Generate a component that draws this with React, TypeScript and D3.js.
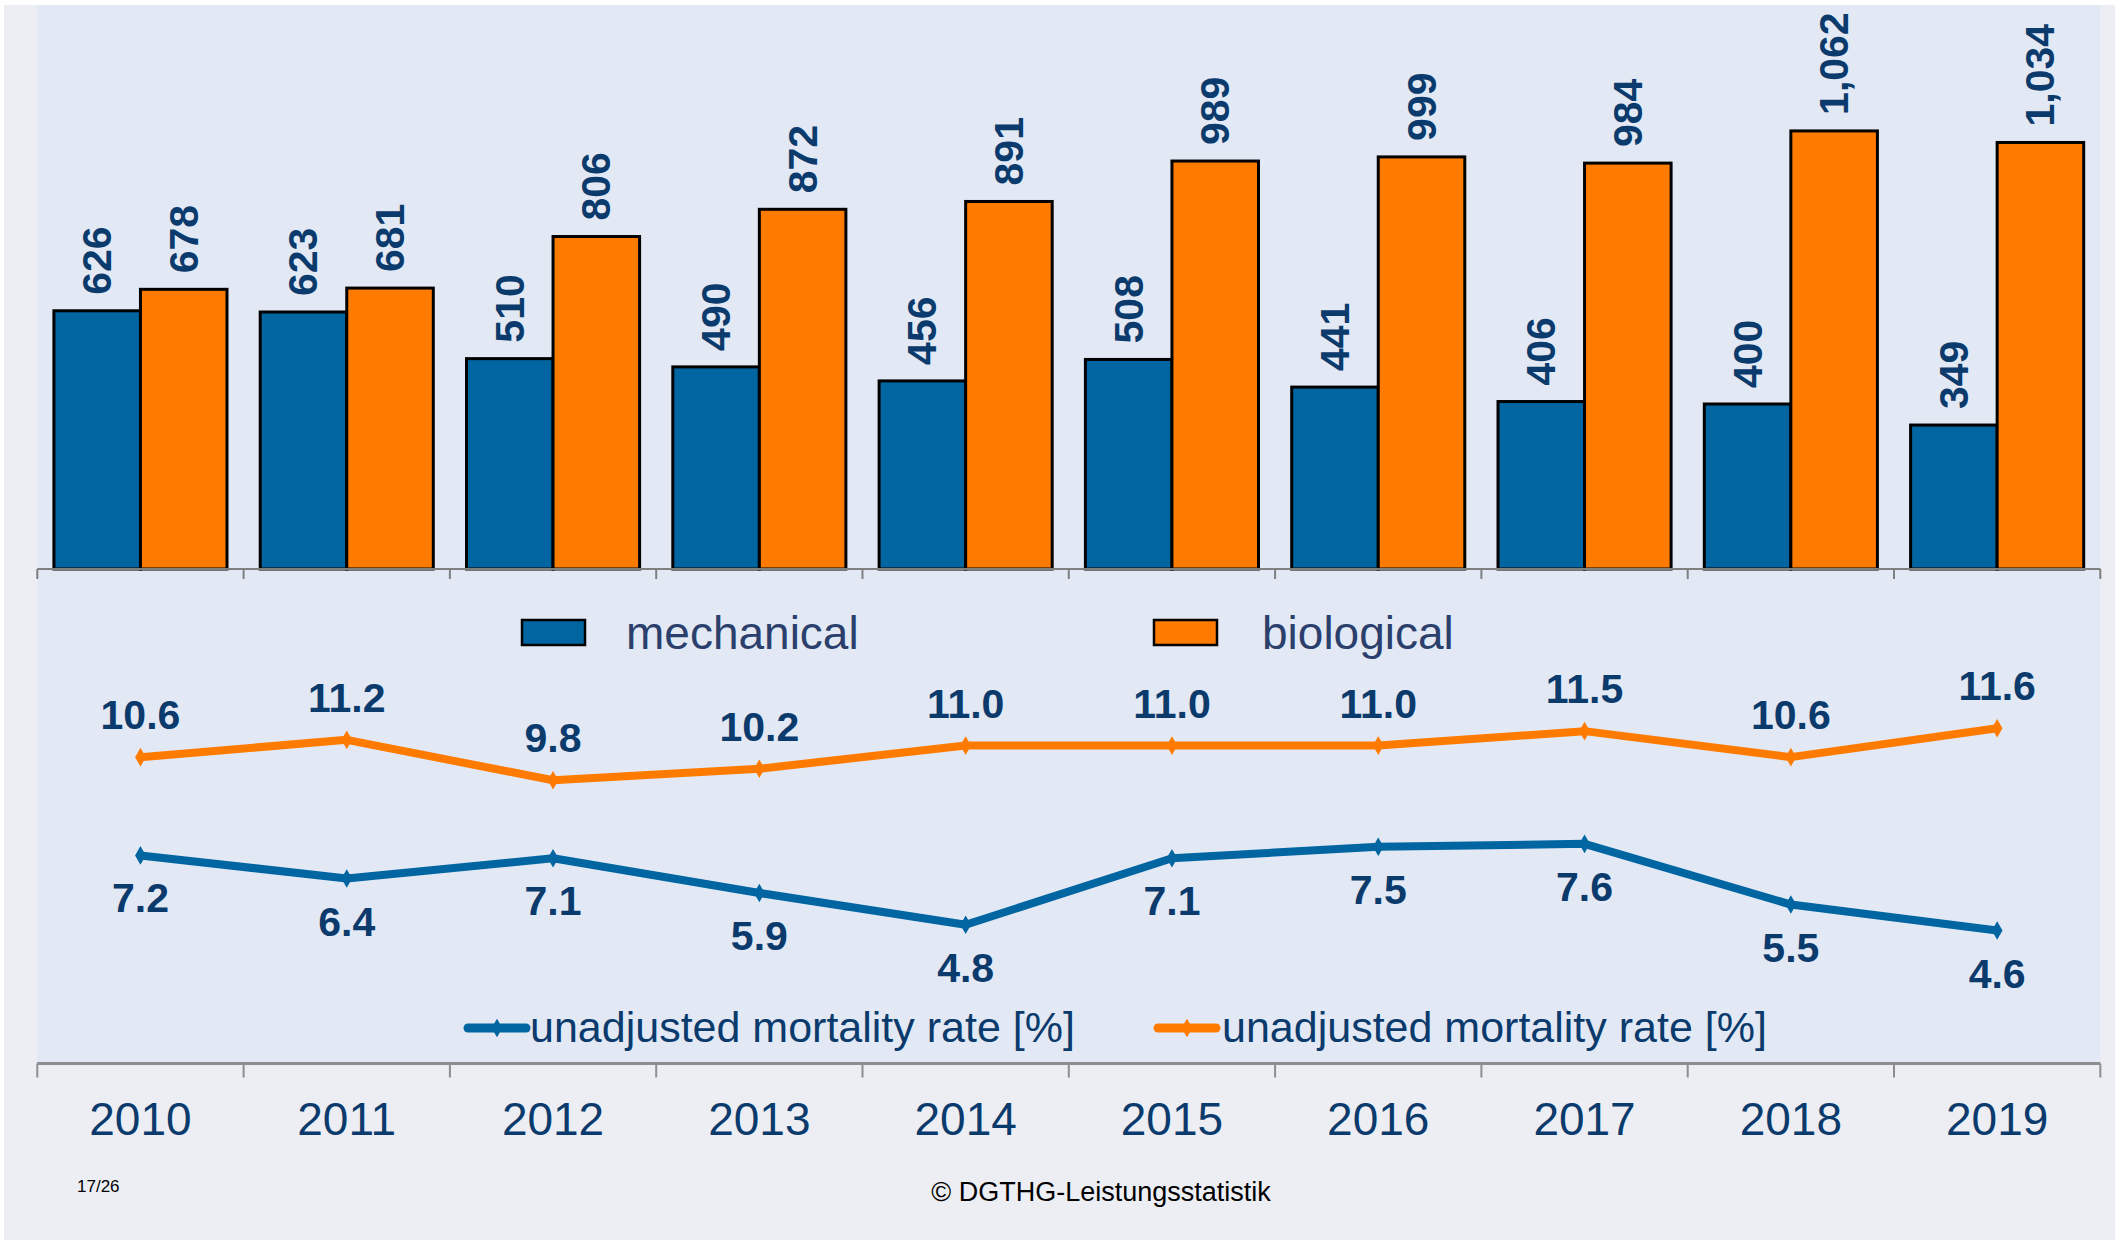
import * as d3 from 'd3';

const years = ['2010', '2011', '2012', '2013', '2014', '2015', '2016', '2017', '2018', '2019'];
const mechanical = [626, 623, 510, 490, 456, 508, 441, 406, 400, 349];
const biological = [678, 681, 806, 872, 891, 989, 999, 984, 1062, 1034];
const mortalityMech = [7.2, 6.4, 7.1, 5.9, 4.8, 7.1, 7.5, 7.6, 5.5, 4.6];
const mortalityBio = [10.6, 11.2, 9.8, 10.2, 11.0, 11.0, 11.0, 11.5, 10.6, 11.6];
const seriesNames = ['mechanical', 'biological'];
const lineLegend = 'unadjusted mortality rate [%]';

const W = 2119;
const H = 1244;
const BLUE = '#0065A1';
const ORANGE = '#FF7B00';
const NAVY = '#0B3A6C';
const LEGEND_INK = '#2B3F6C';
const FONT = "'Liberation Sans', Arial, sans-serif";

export default function App() {
  const left = 37.3;
  const right = 2100.3;
  const barBase = 569;
  const axisY = 1063.5;

  const x = d3
    .scaleBand<string>()
    .domain(years)
    .range([left, right])
    .paddingInner(0.161)
    .paddingOuter(0.0805);
  const sub = d3.scaleBand<string>().domain(seriesNames).range([0, x.bandwidth()]);
  const yBar = d3.scaleLinear().domain([0, 1000]).range([barBase, 156.5]);
  const yLine = d3.scaleLinear().domain([0, 10]).range([axisY, axisY - 289]);

  const step = x.step();
  const bounds = d3.range(years.length + 1).map((i) => left + i * step);
  const cx = (y: string) => (x(y) ?? 0) + x.bandwidth() / 2;

  const line = d3
    .line<number>()
    .x((_, i) => cx(years[i]))
    .y((d) => yLine(d));
  const diamond = d3.symbol(d3.symbolDiamond, 100)() ?? '';

  const fmtBar = d3.format(',');
  const fmtRate = d3.format('.1f');

  const series = [
    { values: mechanical, color: BLUE },
    { values: biological, color: ORANGE },
  ];
  const lines = [
    { values: mortalityMech, color: BLUE, dy: 43 },
    { values: mortalityBio, color: ORANGE, dy: -42 },
  ];

  return (
    <svg
      width={W}
      height={H}
      viewBox={`0 0 ${W} ${H}`}
      style={{ position: 'absolute', left: 0, top: 0, fontFamily: FONT }}
    >
      <rect x={0} y={0} width={W} height={H} fill="#FFFFFF" />
      <rect x={4} y={5} width={W - 8} height={H - 9} fill="#ECEEF4" />
      <rect x={left} y={5} width={right - left} height={axisY - 5} fill="#E2E9F5" />

      {/* bars */}
      {years.map((yr, i) => (
        <g key={yr} transform={`translate(${x(yr)},0)`}>
          {series.map((s, j) => {
            const v = s.values[i];
            const bx = sub(seriesNames[j]) ?? 0;
            const bw = sub.bandwidth();
            return (
              <g key={j}>
                <rect
                  x={bx}
                  y={yBar(v)}
                  width={bw}
                  height={barBase - yBar(v)}
                  fill={s.color}
                  stroke="#000"
                  strokeWidth={3}
                />
                <text
                  transform={`translate(${bx + bw / 2},${yBar(v) - 16}) rotate(-90)`}
                  dominantBaseline="central"
                  fontSize={41}
                  fontWeight="bold"
                  fill={NAVY}
                >
                  {fmtBar(v)}
                </text>
              </g>
            );
          })}
        </g>
      ))}

      {/* bar baseline */}
      <line x1={left} x2={right} y1={barBase} y2={barBase} stroke="#7F7F7F" strokeWidth={2} />
      {bounds.map((b, i) => (
        <line key={i} x1={b} x2={b} y1={barBase} y2={barBase + 10} stroke="#7F7F7F" strokeWidth={2} />
      ))}

      {/* bar legend */}
      <rect x={522} y={620} width={63} height={25} fill={BLUE} stroke="#000" strokeWidth={2.5} />
      <text x={626} y={633} dominantBaseline="central" fontSize={46} fill={LEGEND_INK}>
        {seriesNames[0]}
      </text>
      <rect x={1154} y={620} width={63} height={25} fill={ORANGE} stroke="#000" strokeWidth={2.5} />
      <text x={1262} y={633} dominantBaseline="central" fontSize={46} fill={LEGEND_INK}>
        {seriesNames[1]}
      </text>

      {/* mortality lines */}
      {lines.map((l, k) => (
        <g key={k}>
          <path d={line(l.values) ?? ''} fill="none" stroke={l.color} strokeWidth={8} strokeLinejoin="round" />
          {l.values.map((v, i) => (
            <g key={i}>
              <path d={diamond} transform={`translate(${cx(years[i])},${yLine(v)})`} fill={l.color} />
              <text
                x={cx(years[i])}
                y={yLine(v) + l.dy}
                textAnchor="middle"
                dominantBaseline="central"
                fontSize={41}
                fontWeight="bold"
                fill={NAVY}
              >
                {fmtRate(v)}
              </text>
            </g>
          ))}
        </g>
      ))}

      {/* line legend */}
      {[
        { color: BLUE, x0: 468, tx: 530 },
        { color: ORANGE, x0: 1158, tx: 1222 },
      ].map((g, k) => (
        <g key={k}>
          <line x1={g.x0} x2={g.x0 + 58} y1={1028} y2={1028} stroke={g.color} strokeWidth={9} strokeLinecap="round" />
          <path d={diamond} transform={`translate(${g.x0 + 29},1028)`} fill={g.color} />
          <text x={g.tx} y={1027} dominantBaseline="central" fontSize={43} fill={NAVY}>
            {lineLegend}
          </text>
        </g>
      ))}

      {/* bottom axis */}
      <line x1={left} x2={right} y1={axisY} y2={axisY} stroke="#8E8E8E" strokeWidth={3} />
      {bounds.map((b, i) => (
        <line key={i} x1={b} x2={b} y1={axisY} y2={axisY + 14} stroke="#8E8E8E" strokeWidth={2} />
      ))}
      {years.map((yr) => (
        <text
          key={yr}
          x={cx(yr)}
          y={1119}
          textAnchor="middle"
          dominantBaseline="central"
          fontSize={46}
          fill={NAVY}
        >
          {yr}
        </text>
      ))}

      {/* footer */}
      <text x={77} y={1186} dominantBaseline="central" fontSize={17} fill="#000">
        17/26
      </text>
      <text x={1101} y={1192} textAnchor="middle" dominantBaseline="central" fontSize={27} fill="#000">
        © DGTHG-Leistungsstatistik
      </text>
    </svg>
  );
}
